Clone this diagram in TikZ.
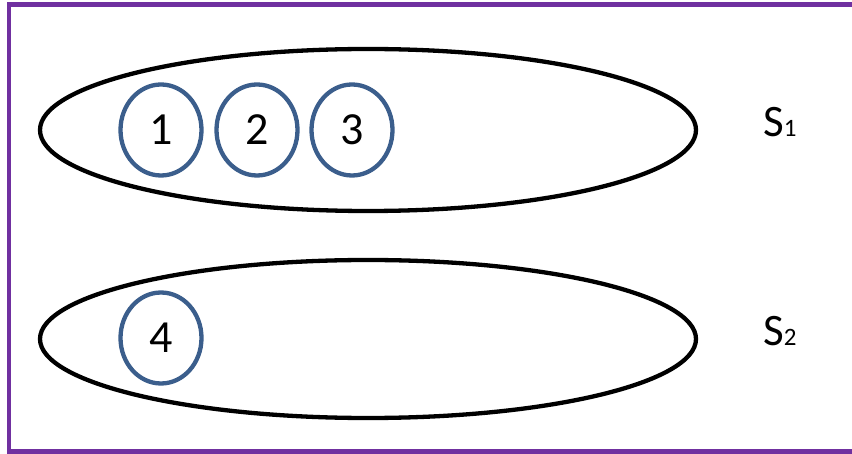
\documentclass[tikz,border=0pt]{standalone}
\usepackage{fontspec}
\setmainfont{Carlito}
\usetikzlibrary{shapes.geometric}
\definecolor{frame}{HTML}{7030A0}
\definecolor{ring}{HTML}{3B5E8C}
\begin{document}
\begin{tikzpicture}[x=1pt,y=-1pt,
  setell/.style={draw=black, line width=4.3pt, ellipse, minimum width=656pt, minimum height=162pt, inner sep=0pt},
  elem/.style={draw=ring, line width=4.3pt, ellipse, minimum width=81pt, minimum height=91pt, inner sep=0pt, font=\fontsize{46}{50}\selectfont},
  lab/.style={font=\fontsize{45}{48}\selectfont, inner sep=0pt, anchor=base west}]
\useasboundingbox (0,0) rectangle (852,454);
\begin{scope}
\clip (0,0) rectangle (852,454);
\draw[frame, line width=4.5pt] (880,4.5) -- (9,4.5) -- (9,451.5) -- (880,451.5);
\end{scope}
\node[setell] (s1) at (368,130) {};
\node[setell, minimum height=158pt] (s2) at (368,339) {};
\node[elem] (e1) at (161,130) {1};
\node[elem] (e2) at (257,130) {2};
\node[elem] (e3) at (352,130) {3};
\node[elem] (e4) at (161,338) {4};
\node[lab] (l1) at (763,137) {S\fontsize{25}{27}\selectfont 1};
\node[lab] (l2) at (763,346) {S\fontsize{25}{27}\selectfont 2};
\end{tikzpicture}
\end{document}
